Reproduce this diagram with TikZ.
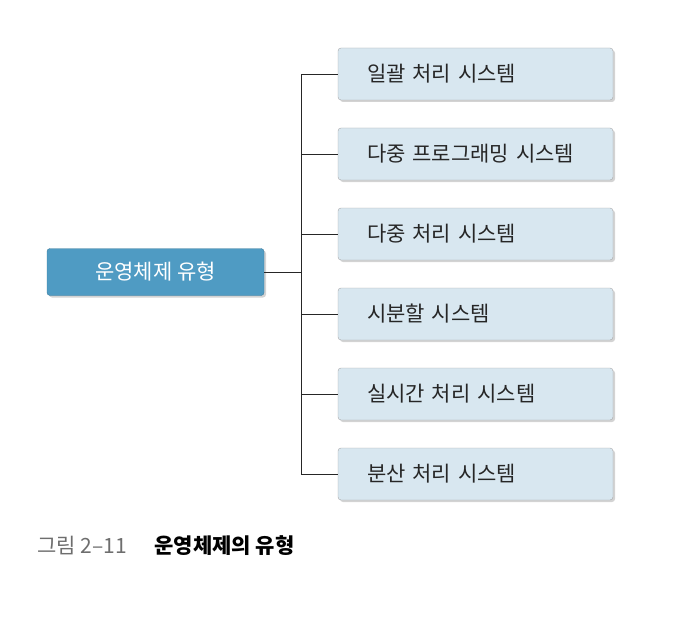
\documentclass[tikz,border=0pt]{standalone}
\usepackage{fontspec}
\setmainfont{Noto Sans CJK KR}
\usetikzlibrary{shadows}
\definecolor{rootblue}{HTML}{4F9BC3}
\definecolor{leafblue}{HTML}{D8E7F0}
\definecolor{capgray}{HTML}{6E6E6E}
\begin{document}
\begin{tikzpicture}[x=1pt,y=-1pt]
\tikzstyle{root_style} = [draw=rootblue!80!black, fill=rootblue, rounded corners=3, text=white,
    minimum width=217, minimum height=47, font=\fontsize{21}{24}\selectfont,
    drop shadow={opacity=0.35, shadow xshift=2pt, shadow yshift=-2pt}]
\tikzstyle{leaf_style} = [draw=gray!70, fill=leafblue, rounded corners=3, text=black!85,
    minimum width=275, minimum height=52, text width=217, align=left, inner xsep=29,
    font=\fontsize{21}{24}\selectfont,
    drop shadow={opacity=0.35, shadow xshift=2pt, shadow yshift=-2pt}]
\tikzstyle{edge_style} = [black!85, line width=0.9]
    \useasboundingbox (0,0) rectangle (689,626);

    \node[root_style] (root) at (155.5,272) {운영체제 유형};

    \node[leaf_style] (b1) at (475.5,74) {일괄 처리 시스템};
    \node[leaf_style] (b2) at (475.5,154) {다중 프로그래밍 시스템};
    \node[leaf_style] (b3) at (475.5,234) {다중 처리 시스템};
    \node[leaf_style] (b4) at (475.5,314) {시분할 시스템};
    \node[leaf_style] (b5) at (475.5,394) {실시간 처리 시스템};
    \node[leaf_style] (b6) at (475.5,474) {분산 처리 시스템};

    \coordinate (j) at (301,272);
    \draw[edge_style] (root.east) -- (j);
    \foreach \i in {1,...,6}
        \draw[edge_style] (j) |- (b\i.west);

    \node[anchor=west, text=capgray, font=\fontsize{21}{24}\selectfont] (cap) at (34,546) {그림 2–11};
    \node[anchor=west, font=\fontsize{21}{24}\selectfont\bfseries] (title) at (151,546) {운영체제의 유형};
\end{tikzpicture}
\end{document}
